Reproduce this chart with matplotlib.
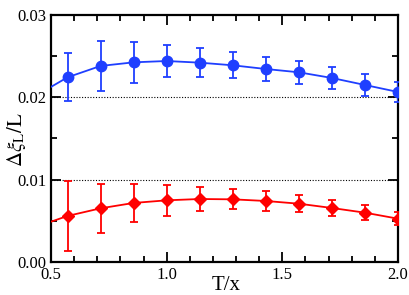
import matplotlib
matplotlib.use("Agg")
import matplotlib.pyplot as plt
from matplotlib.ticker import MultipleLocator, FormatStrFormatter

# temperatures T/x (first point lies outside the visible range)
t = [3/7, 4/7, 5/7, 6/7, 1.0, 8/7, 9/7, 10/7, 11/7, 12/7, 13/7, 2.0]

blue_y = [0.0201, 0.02243, 0.02381, 0.02425, 0.02441, 0.02421, 0.02389,
          0.02344, 0.02304, 0.02235, 0.02150, 0.02065]
blue_err = [0.0030, 0.0029, 0.0030, 0.0025, 0.0020, 0.0018, 0.0016,
            0.0015, 0.0014, 0.0013, 0.0013, 0.00125]

red_y = [0.0042, 0.00559, 0.00652, 0.00717, 0.00749, 0.00765, 0.00761,
         0.00741, 0.00708, 0.00656, 0.00599, 0.00526]
red_err = [0.0045, 0.0042, 0.0030, 0.0023, 0.0019, 0.0015, 0.0012,
           0.0012, 0.0010, 0.0010, 0.0009, 0.0008]

plt.rcParams['font.family'] = ['Liberation Serif', 'DejaVu Serif']
plt.rcParams['mathtext.fontset'] = 'stix'

fig = plt.figure(figsize=(4.09, 2.95), dpi=100)
ax = fig.add_axes([0.1247, 0.1119, 0.8483, 0.8373])

for yref in (0.01, 0.02):
    ax.axhline(yref, color='black', lw=0.8, ls=(0, (1, 1.5)), zorder=1)

ax.errorbar(t, blue_y, yerr=blue_err, color='#1f3fff', marker='o', ms=7.5,
            lw=1.3, elinewidth=1.3, capsize=3, capthick=1.3, zorder=3)
ax.errorbar(t, red_y, yerr=red_err, color='#ff0000', marker='D', ms=6,
            lw=1.3, elinewidth=1.3, capsize=3, capthick=1.3, zorder=3)

ax.set_xlim(0.5, 2.0)
ax.set_ylim(0.0, 0.03)
ax.xaxis.set_major_locator(MultipleLocator(0.5))
ax.xaxis.set_minor_locator(MultipleLocator(0.1))
ax.yaxis.set_major_locator(MultipleLocator(0.01))
ax.yaxis.set_minor_locator(MultipleLocator(0.005))
ax.xaxis.set_major_formatter(FormatStrFormatter('%.1f'))
ax.yaxis.set_major_formatter(FormatStrFormatter('%.2f'))
ax.tick_params(which='both', direction='in', top=True, right=True,
               labelsize=12, width=1.3)
ax.tick_params(which='major', length=7)
ax.tick_params(which='minor', length=4)
for s in ax.spines.values():
    s.set_linewidth(1.6)

fig.text(226 / 409, 1 - 285 / 295, 'T/x', fontsize=15, ha='center', va='center')
fig.text(17 / 409, 1 - 140 / 295, r'$\Delta\xi_\mathrm{L}/\mathrm{L}$',
         fontsize=15, rotation=90, ha='center', va='center')

fig.savefig('out.png', dpi=100)
